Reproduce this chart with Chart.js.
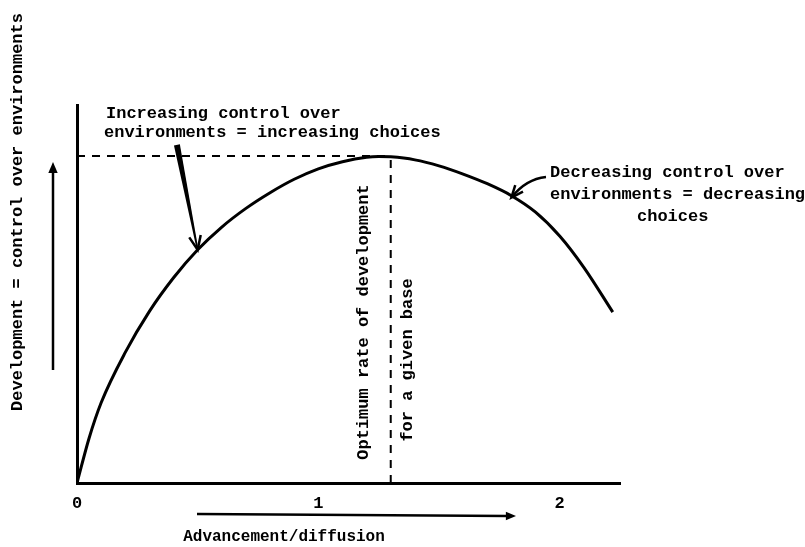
<!DOCTYPE html>
<html>
<head>
<meta charset="utf-8">
<script src="https://cdn.jsdelivr.net/npm/chart.js@4.4.1/dist/chart.umd.min.js"></script>
<style>
  html, body { margin: 0; padding: 0; background: #fff; }
  #wrap { width: 805px; height: 547px; }
</style>
</head>
<body>
<div id="wrap"><canvas id="mycanvas"></canvas></div>
<script>
// development curve (x = advancement, y = development, 0..100)
var advX = [0, 0.05, 0.1, 0.2, 0.3, 0.4, 0.5, 0.6, 0.7, 0.8, 0.9, 1.0, 1.1, 1.2, 1.25, 1.3, 1.4, 1.5, 1.6, 1.7, 1.8, 1.9, 2.0, 2.1, 2.22];
var devY = [0, 12, 21.5, 35, 46, 55, 62.5, 68.6, 73.6, 77.8, 81.4, 84.2, 86.1, 87.3, 87.5, 87.4, 86.6, 85.0, 82.8, 80.2, 77.0, 72.6, 66.2, 57.8, 45.8];
var xTicks = [0, 1, 2];
var optimumX = 1.30;
var optimumY = 87.6;

var FONT = '"Liberation Mono", "DejaVu Sans Mono", monospace';

var curve = [];
for (var i in advX) {
  curve.push({x: advX[i], y: devY[i]});
}

// little helper for arrow heads
function head(ctx, x, y, ang, len, filled) {
  ctx.beginPath();
  ctx.moveTo(x - len * Math.cos(ang - 0.4), y - len * Math.sin(ang - 0.4));
  ctx.lineTo(x, y);
  ctx.lineTo(x - len * Math.cos(ang + 0.4), y - len * Math.sin(ang + 0.4));
  if (filled) { ctx.closePath(); ctx.fill(); } else { ctx.stroke(); }
}

var notes = {
  id: 'notes',
  afterDraw: function(chart) {
    var ctx = chart.ctx;
    var sx = chart.scales.x, sy = chart.scales.y;
    var area = chart.chartArea;
    ctx.save();
    ctx.fillStyle = '#000';
    ctx.strokeStyle = '#000';
    ctx.textBaseline = 'middle';
    ctx.font = 'bold 17px ' + FONT;

    ctx.textAlign = 'left';
    ctx.fillText('Increasing control over', 106, 114);
    ctx.fillText('environments = increasing choices', 104, 133);
    ctx.fillText('Decreasing control over', 550, 173);
    ctx.fillText('environments = decreasing', 550, 195);
    ctx.fillText('choices', 637, 217);

    // rotated labels
    ctx.textAlign = 'center';
    var rot = [
      ['Optimum rate of development', 364, 322],
      ['for a given base', 408, 360],
      ['Development = control over environments', 18, 212]
    ];
    rot.forEach(function(r) {
      ctx.save();
      ctx.translate(r[1], r[2]);
      ctx.rotate(-Math.PI / 2);
      ctx.fillText(r[0], 0, 0);
      ctx.restore();
    });

    ctx.font = 'bold 16px ' + FONT;
    ctx.fillText('Advancement/diffusion', 284, 537);

    // arrow to rising part of the curve (wedge, thick at the tail)
    var tx = sx.getPixelForValue(0.5), ty = sy.getPixelForValue(62.5);
    var fx = sx.getPixelForValue(0.414), fy = sy.getPixelForValue(90.6);
    var a = Math.atan2(ty - fy, tx - fx);
    var nx = -Math.sin(a), ny = Math.cos(a);
    ctx.beginPath();
    ctx.moveTo(fx + nx * 3, fy + ny * 3);
    ctx.lineTo(tx + nx * 0.8, ty + ny * 0.8);
    ctx.lineTo(tx - nx * 0.8, ty - ny * 0.8);
    ctx.lineTo(fx - nx * 3, fy - ny * 3);
    ctx.closePath();
    ctx.fill();
    ctx.lineWidth = 2.5;
    head(ctx, tx, ty, a, 15, false);

    // arrow to falling part
    var rx = sx.getPixelForValue(1.8), ry = sy.getPixelForValue(76.5);
    ctx.beginPath();
    ctx.moveTo(546, 177);
    ctx.quadraticCurveTo(526, 179, rx, ry);
    ctx.stroke();
    head(ctx, rx, ry, Math.atan2(ry - 185, rx - 522), 13, false);

    // direction arrows beside the axes
    ctx.lineWidth = 2.5;
    ctx.beginPath();
    ctx.moveTo(area.left - 24, 370);
    ctx.lineTo(area.left - 24, 170);
    ctx.stroke();
    head(ctx, area.left - 24, 162, -Math.PI / 2, 12, true);

    ctx.beginPath();
    ctx.moveTo(197, 514);
    ctx.lineTo(508, 516);
    ctx.stroke();
    head(ctx, 516, 516, 0, 11, true);

    ctx.restore();
  }
};

var ctx = document.getElementById('mycanvas');

var chart = new Chart(ctx, {
  type: 'scatter',
  data: {
    datasets: [
      {
        label: 'Development',
        data: curve,
        showLine: true,
        borderColor: '#000',
        borderWidth: 3,
        pointRadius: 0,
        cubicInterpolationMode: 'monotone'
      },
      {
        label: 'Optimum level',
        data: [{x: 0, y: optimumY}, {x: optimumX, y: optimumY}],
        showLine: true,
        borderColor: '#000',
        borderWidth: 2,
        borderDash: [8, 7],
        pointRadius: 0
      },
      {
        label: 'Optimum rate',
        data: [{x: optimumX, y: 0}, {x: optimumX, y: optimumY}],
        showLine: true,
        borderColor: '#000',
        borderWidth: 2,
        borderDash: [8, 7],
        pointRadius: 0
      }
    ]
  },
  options: {
    responsive: true,
    maintainAspectRatio: false,
    animation: false,
    layout: { padding: { top: 105, right: 185, left: 0, bottom: 0 } },
    plugins: {
      legend: { display: false },
      tooltip: { enabled: false }
    },
    scales: {
      x: {
        type: 'linear',
        min: 0,
        max: 2.25,
        grid: { display: false, drawTicks: false },
        border: { display: true, color: '#000', width: 3 },
        afterBuildTicks: function(scale) {
          scale.ticks = xTicks.map(function(v) { return {value: v}; });
        },
        afterFit: function(scale) { scale.height = 64; },
        ticks: {
          color: '#000',
          padding: 11,
          font: { family: FONT, size: 17, weight: 'bold' },
          callback: function(v) { return String(v); }
        }
      },
      y: {
        type: 'linear',
        min: 0,
        max: 101.3,
        grid: { display: false, drawTicks: false },
        border: { display: true, color: '#000', width: 3 },
        ticks: { display: false },
        afterFit: function(scale) { scale.width = 77; }
      }
    }
  },
  plugins: [notes]
});
</script>
</body>
</html>
